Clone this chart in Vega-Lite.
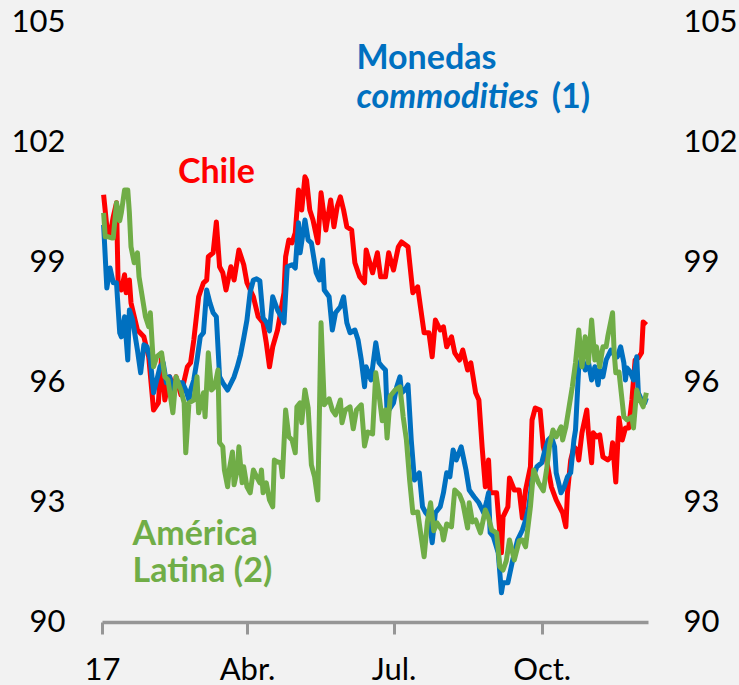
{
"$schema": "https://vega.github.io/schema/vega-lite/v6.json",
"autosize": {"type": "none"},
"padding": {"left": 102, "top": 22, "right": 91, "bottom": 63},
"width": 546,
"height": 600,
"background": "#f2f2f2",
"config": {"view": {"stroke": null}, "font": "Lato"},
"datasets": {
"series": [
{"serie":"Chile","fecha":"2017-01-02","valor":100.68},{"serie":"Chile","fecha":"2017-01-04","valor":99.88},{"serie":"Chile","fecha":"2017-01-06","valor":99.68},{"serie":"Chile","fecha":"2017-01-08","valor":100.13},{"serie":"Chile","fecha":"2017-01-10","valor":100.48},{"serie":"Chile","fecha":"2017-01-11","valor":98.48},{"serie":"Chile","fecha":"2017-01-13","valor":98.3},{"serie":"Chile","fecha":"2017-01-15","valor":98.68},{"serie":"Chile","fecha":"2017-01-16","valor":98.23},{"serie":"Chile","fecha":"2017-01-18","valor":98.55},{"serie":"Chile","fecha":"2017-01-19","valor":97.98},{"serie":"Chile","fecha":"2017-01-23","valor":97.3},{"serie":"Chile","fecha":"2017-01-27","valor":97.13},{"serie":"Chile","fecha":"2017-01-30","valor":96.63},{"serie":"Chile","fecha":"2017-02-02","valor":95.3},{"serie":"Chile","fecha":"2017-02-05","valor":95.48},{"serie":"Chile","fecha":"2017-02-07","valor":96.63},{"serie":"Chile","fecha":"2017-02-09","valor":95.55},{"serie":"Chile","fecha":"2017-02-12","valor":96.13},{"serie":"Chile","fecha":"2017-02-15","valor":95.8},{"serie":"Chile","fecha":"2017-02-16","valor":96.13},{"serie":"Chile","fecha":"2017-02-19","valor":95.68},{"serie":"Chile","fecha":"2017-02-23","valor":96.38},{"serie":"Chile","fecha":"2017-02-25","valor":96.48},{"serie":"Chile","fecha":"2017-02-27","valor":97.05},{"serie":"Chile","fecha":"2017-03-02","valor":98.13},{"serie":"Chile","fecha":"2017-03-05","valor":98.48},{"serie":"Chile","fecha":"2017-03-07","valor":98.55},{"serie":"Chile","fecha":"2017-03-08","valor":99.13},{"serie":"Chile","fecha":"2017-03-11","valor":99.23},{"serie":"Chile","fecha":"2017-03-13","valor":100.0},{"serie":"Chile","fecha":"2017-03-15","valor":98.88},{"serie":"Chile","fecha":"2017-03-17","valor":98.73},{"serie":"Chile","fecha":"2017-03-19","valor":98.3},{"serie":"Chile","fecha":"2017-03-22","valor":98.88},{"serie":"Chile","fecha":"2017-03-24","valor":98.55},{"serie":"Chile","fecha":"2017-03-27","valor":99.3},{"serie":"Chile","fecha":"2017-03-30","valor":98.93},{"serie":"Chile","fecha":"2017-04-01","valor":98.48},{"serie":"Chile","fecha":"2017-04-05","valor":98.13},{"serie":"Chile","fecha":"2017-04-08","valor":97.63},{"serie":"Chile","fecha":"2017-04-11","valor":97.48},{"serie":"Chile","fecha":"2017-04-13","valor":96.98},{"serie":"Chile","fecha":"2017-04-15","valor":96.38},{"serie":"Chile","fecha":"2017-04-17","valor":96.88},{"serie":"Chile","fecha":"2017-04-20","valor":97.3},{"serie":"Chile","fecha":"2017-04-24","valor":98.23},{"serie":"Chile","fecha":"2017-04-25","valor":99.13},{"serie":"Chile","fecha":"2017-04-27","valor":99.55},{"serie":"Chile","fecha":"2017-04-29","valor":99.48},{"serie":"Chile","fecha":"2017-05-01","valor":99.73},{"serie":"Chile","fecha":"2017-05-03","valor":100.8},{"serie":"Chile","fecha":"2017-05-05","valor":100.3},{"serie":"Chile","fecha":"2017-05-07","valor":101.13},{"serie":"Chile","fecha":"2017-05-08","valor":101.05},{"serie":"Chile","fecha":"2017-05-10","valor":100.3},{"serie":"Chile","fecha":"2017-05-12","valor":100.05},{"serie":"Chile","fecha":"2017-05-15","valor":99.48},{"serie":"Chile","fecha":"2017-05-17","valor":100.73},{"serie":"Chile","fecha":"2017-05-20","valor":99.8},{"serie":"Chile","fecha":"2017-05-23","valor":100.55},{"serie":"Chile","fecha":"2017-05-25","valor":99.88},{"serie":"Chile","fecha":"2017-05-27","valor":100.38},{"serie":"Chile","fecha":"2017-05-29","valor":100.63},{"serie":"Chile","fecha":"2017-05-31","valor":100.3},{"serie":"Chile","fecha":"2017-06-02","valor":99.88},{"serie":"Chile","fecha":"2017-06-05","valor":99.8},{"serie":"Chile","fecha":"2017-06-07","valor":98.98},{"serie":"Chile","fecha":"2017-06-10","valor":98.63},{"serie":"Chile","fecha":"2017-06-13","valor":98.48},{"serie":"Chile","fecha":"2017-06-14","valor":99.3},{"serie":"Chile","fecha":"2017-06-18","valor":98.73},{"serie":"Chile","fecha":"2017-06-21","valor":99.23},{"serie":"Chile","fecha":"2017-06-23","valor":98.63},{"serie":"Chile","fecha":"2017-06-26","valor":98.63},{"serie":"Chile","fecha":"2017-06-28","valor":99.23},{"serie":"Chile","fecha":"2017-07-01","valor":98.8},{"serie":"Chile","fecha":"2017-07-04","valor":99.38},{"serie":"Chile","fecha":"2017-07-06","valor":99.5},{"serie":"Chile","fecha":"2017-07-10","valor":99.38},{"serie":"Chile","fecha":"2017-07-13","valor":98.23},{"serie":"Chile","fecha":"2017-07-16","valor":98.38},{"serie":"Chile","fecha":"2017-07-18","valor":97.8},{"serie":"Chile","fecha":"2017-07-20","valor":97.23},{"serie":"Chile","fecha":"2017-07-23","valor":97.23},{"serie":"Chile","fecha":"2017-07-25","valor":96.63},{"serie":"Chile","fecha":"2017-07-27","valor":97.55},{"serie":"Chile","fecha":"2017-07-30","valor":97.3},{"serie":"Chile","fecha":"2017-08-01","valor":97.38},{"serie":"Chile","fecha":"2017-08-03","valor":96.88},{"serie":"Chile","fecha":"2017-08-06","valor":97.13},{"serie":"Chile","fecha":"2017-08-08","valor":96.73},{"serie":"Chile","fecha":"2017-08-11","valor":96.55},{"serie":"Chile","fecha":"2017-08-13","valor":96.8},{"serie":"Chile","fecha":"2017-08-16","valor":96.3},{"serie":"Chile","fecha":"2017-08-18","valor":96.48},{"serie":"Chile","fecha":"2017-08-21","valor":95.73},{"serie":"Chile","fecha":"2017-08-23","valor":95.55},{"serie":"Chile","fecha":"2017-08-25","valor":94.38},{"serie":"Chile","fecha":"2017-08-27","valor":93.38},{"serie":"Chile","fecha":"2017-08-29","valor":94.05},{"serie":"Chile","fecha":"2017-08-30","valor":93.23},{"serie":"Chile","fecha":"2017-09-03","valor":93.23},{"serie":"Chile","fecha":"2017-09-06","valor":91.73},{"serie":"Chile","fecha":"2017-09-07","valor":92.63},{"serie":"Chile","fecha":"2017-09-10","valor":92.88},{"serie":"Chile","fecha":"2017-09-11","valor":93.6},{"serie":"Chile","fecha":"2017-09-14","valor":93.3},{"serie":"Chile","fecha":"2017-09-17","valor":93.3},{"serie":"Chile","fecha":"2017-09-19","valor":92.6},{"serie":"Chile","fecha":"2017-09-21","valor":93.3},{"serie":"Chile","fecha":"2017-09-24","valor":93.88},{"serie":"Chile","fecha":"2017-09-25","valor":95.05},{"serie":"Chile","fecha":"2017-09-27","valor":95.35},{"serie":"Chile","fecha":"2017-09-30","valor":95.3},{"serie":"Chile","fecha":"2017-10-02","valor":94.38},{"serie":"Chile","fecha":"2017-10-04","valor":94.05},{"serie":"Chile","fecha":"2017-10-07","valor":93.38},{"serie":"Chile","fecha":"2017-10-10","valor":93.05},{"serie":"Chile","fecha":"2017-10-14","valor":92.73},{"serie":"Chile","fecha":"2017-10-16","valor":92.38},{"serie":"Chile","fecha":"2017-10-17","valor":93.23},{"serie":"Chile","fecha":"2017-10-19","valor":94.05},{"serie":"Chile","fecha":"2017-10-21","valor":94.38},{"serie":"Chile","fecha":"2017-10-23","valor":94.3},{"serie":"Chile","fecha":"2017-10-24","valor":94.05},{"serie":"Chile","fecha":"2017-10-26","valor":94.73},{"serie":"Chile","fecha":"2017-10-29","valor":95.3},{"serie":"Chile","fecha":"2017-10-30","valor":94.73},{"serie":"Chile","fecha":"2017-11-01","valor":93.98},{"serie":"Chile","fecha":"2017-11-02","valor":94.73},{"serie":"Chile","fecha":"2017-11-04","valor":94.63},{"serie":"Chile","fecha":"2017-11-06","valor":94.68},{"serie":"Chile","fecha":"2017-11-08","valor":94.13},{"serie":"Chile","fecha":"2017-11-11","valor":94.05},{"serie":"Chile","fecha":"2017-11-13","valor":94.13},{"serie":"Chile","fecha":"2017-11-14","valor":94.48},{"serie":"Chile","fecha":"2017-11-16","valor":93.5},{"serie":"Chile","fecha":"2017-11-17","valor":94.3},{"serie":"Chile","fecha":"2017-11-18","valor":95.1},{"serie":"Chile","fecha":"2017-11-20","valor":94.55},{"serie":"Chile","fecha":"2017-11-22","valor":94.85},{"serie":"Chile","fecha":"2017-11-24","valor":94.85},{"serie":"Chile","fecha":"2017-11-26","valor":95.55},{"serie":"Chile","fecha":"2017-11-28","valor":96.55},{"serie":"Chile","fecha":"2017-11-30","valor":96.6},{"serie":"Chile","fecha":"2017-12-02","valor":96.73},{"serie":"Chile","fecha":"2017-12-03","valor":97.5},{"serie":"Chile","fecha":"2017-12-05","valor":97.43},
{"serie":"Monedas commodities (1)","fecha":"2017-01-02","valor":99.93},{"serie":"Monedas commodities (1)","fecha":"2017-01-04","valor":98.35},{"serie":"Monedas commodities (1)","fecha":"2017-01-06","valor":98.85},{"serie":"Monedas commodities (1)","fecha":"2017-01-08","valor":98.48},{"serie":"Monedas commodities (1)","fecha":"2017-01-10","valor":98.48},{"serie":"Monedas commodities (1)","fecha":"2017-01-12","valor":97.23},{"serie":"Monedas commodities (1)","fecha":"2017-01-13","valor":97.13},{"serie":"Monedas commodities (1)","fecha":"2017-01-15","valor":97.63},{"serie":"Monedas commodities (1)","fecha":"2017-01-17","valor":96.55},{"serie":"Monedas commodities (1)","fecha":"2017-01-18","valor":97.8},{"serie":"Monedas commodities (1)","fecha":"2017-01-20","valor":97.55},{"serie":"Monedas commodities (1)","fecha":"2017-01-23","valor":96.8},{"serie":"Monedas commodities (1)","fecha":"2017-01-25","valor":96.23},{"serie":"Monedas commodities (1)","fecha":"2017-01-27","valor":96.93},{"serie":"Monedas commodities (1)","fecha":"2017-01-29","valor":96.88},{"serie":"Monedas commodities (1)","fecha":"2017-01-31","valor":96.55},{"serie":"Monedas commodities (1)","fecha":"2017-02-02","valor":95.73},{"serie":"Monedas commodities (1)","fecha":"2017-02-04","valor":96.05},{"serie":"Monedas commodities (1)","fecha":"2017-02-06","valor":96.38},{"serie":"Monedas commodities (1)","fecha":"2017-02-08","valor":96.48},{"serie":"Monedas commodities (1)","fecha":"2017-02-10","valor":95.98},{"serie":"Monedas commodities (1)","fecha":"2017-02-12","valor":96.13},{"serie":"Monedas commodities (1)","fecha":"2017-02-14","valor":95.8},{"serie":"Monedas commodities (1)","fecha":"2017-02-17","valor":95.98},{"serie":"Monedas commodities (1)","fecha":"2017-02-20","valor":95.98},{"serie":"Monedas commodities (1)","fecha":"2017-02-22","valor":95.8},{"serie":"Monedas commodities (1)","fecha":"2017-02-24","valor":95.55},{"serie":"Monedas commodities (1)","fecha":"2017-02-25","valor":95.8},{"serie":"Monedas commodities (1)","fecha":"2017-02-27","valor":96.05},{"serie":"Monedas commodities (1)","fecha":"2017-03-01","valor":96.55},{"serie":"Monedas commodities (1)","fecha":"2017-03-03","valor":97.13},{"serie":"Monedas commodities (1)","fecha":"2017-03-05","valor":97.23},{"serie":"Monedas commodities (1)","fecha":"2017-03-07","valor":98.3},{"serie":"Monedas commodities (1)","fecha":"2017-03-09","valor":97.98},{"serie":"Monedas commodities (1)","fecha":"2017-03-11","valor":97.73},{"serie":"Monedas commodities (1)","fecha":"2017-03-13","valor":97.63},{"serie":"Monedas commodities (1)","fecha":"2017-03-15","valor":96.13},{"serie":"Monedas commodities (1)","fecha":"2017-03-17","valor":95.98},{"serie":"Monedas commodities (1)","fecha":"2017-03-20","valor":95.8},{"serie":"Monedas commodities (1)","fecha":"2017-03-24","valor":96.13},{"serie":"Monedas commodities (1)","fecha":"2017-03-26","valor":96.38},{"serie":"Monedas commodities (1)","fecha":"2017-03-28","valor":96.68},{"serie":"Monedas commodities (1)","fecha":"2017-03-30","valor":97.1},{"serie":"Monedas commodities (1)","fecha":"2017-04-01","valor":97.55},{"serie":"Monedas commodities (1)","fecha":"2017-04-03","valor":98.25},{"serie":"Monedas commodities (1)","fecha":"2017-04-05","valor":98.55},{"serie":"Monedas commodities (1)","fecha":"2017-04-07","valor":98.58},{"serie":"Monedas commodities (1)","fecha":"2017-04-09","valor":98.53},{"serie":"Monedas commodities (1)","fecha":"2017-04-11","valor":97.6},{"serie":"Monedas commodities (1)","fecha":"2017-04-13","valor":97.5},{"serie":"Monedas commodities (1)","fecha":"2017-04-15","valor":97.28},{"serie":"Monedas commodities (1)","fecha":"2017-04-17","valor":98.13},{"serie":"Monedas commodities (1)","fecha":"2017-04-20","valor":97.8},{"serie":"Monedas commodities (1)","fecha":"2017-04-22","valor":97.65},{"serie":"Monedas commodities (1)","fecha":"2017-04-24","valor":97.48},{"serie":"Monedas commodities (1)","fecha":"2017-04-26","valor":98.88},{"serie":"Monedas commodities (1)","fecha":"2017-04-29","valor":98.93},{"serie":"Monedas commodities (1)","fecha":"2017-05-01","valor":98.85},{"serie":"Monedas commodities (1)","fecha":"2017-05-03","valor":99.98},{"serie":"Monedas commodities (1)","fecha":"2017-05-04","valor":99.23},{"serie":"Monedas commodities (1)","fecha":"2017-05-07","valor":100.05},{"serie":"Monedas commodities (1)","fecha":"2017-05-09","valor":99.55},{"serie":"Monedas commodities (1)","fecha":"2017-05-11","valor":99.48},{"serie":"Monedas commodities (1)","fecha":"2017-05-14","valor":98.73},{"serie":"Monedas commodities (1)","fecha":"2017-05-16","valor":98.55},{"serie":"Monedas commodities (1)","fecha":"2017-05-18","valor":99.05},{"serie":"Monedas commodities (1)","fecha":"2017-05-19","valor":98.3},{"serie":"Monedas commodities (1)","fecha":"2017-05-22","valor":98.13},{"serie":"Monedas commodities (1)","fecha":"2017-05-24","valor":97.3},{"serie":"Monedas commodities (1)","fecha":"2017-05-26","valor":97.73},{"serie":"Monedas commodities (1)","fecha":"2017-05-29","valor":97.88},{"serie":"Monedas commodities (1)","fecha":"2017-05-31","valor":98.13},{"serie":"Monedas commodities (1)","fecha":"2017-06-02","valor":97.48},{"serie":"Monedas commodities (1)","fecha":"2017-06-04","valor":97.23},{"serie":"Monedas commodities (1)","fecha":"2017-06-07","valor":97.3},{"serie":"Monedas commodities (1)","fecha":"2017-06-09","valor":97.05},{"serie":"Monedas commodities (1)","fecha":"2017-06-11","valor":96.55},{"serie":"Monedas commodities (1)","fecha":"2017-06-13","valor":95.88},{"serie":"Monedas commodities (1)","fecha":"2017-06-14","valor":96.38},{"serie":"Monedas commodities (1)","fecha":"2017-06-17","valor":96.05},{"serie":"Monedas commodities (1)","fecha":"2017-06-20","valor":96.98},{"serie":"Monedas commodities (1)","fecha":"2017-06-22","valor":96.48},{"serie":"Monedas commodities (1)","fecha":"2017-06-24","valor":96.38},{"serie":"Monedas commodities (1)","fecha":"2017-06-26","valor":96.3},{"serie":"Monedas commodities (1)","fecha":"2017-06-27","valor":95.23},{"serie":"Monedas commodities (1)","fecha":"2017-07-01","valor":95.48},{"serie":"Monedas commodities (1)","fecha":"2017-07-03","valor":95.88},{"serie":"Monedas commodities (1)","fecha":"2017-07-05","valor":96.13},{"serie":"Monedas commodities (1)","fecha":"2017-07-06","valor":95.73},{"serie":"Monedas commodities (1)","fecha":"2017-07-08","valor":95.8},{"serie":"Monedas commodities (1)","fecha":"2017-07-10","valor":95.93},{"serie":"Monedas commodities (1)","fecha":"2017-07-12","valor":94.55},{"serie":"Monedas commodities (1)","fecha":"2017-07-14","valor":93.55},{"serie":"Monedas commodities (1)","fecha":"2017-07-17","valor":93.73},{"serie":"Monedas commodities (1)","fecha":"2017-07-19","valor":92.88},{"serie":"Monedas commodities (1)","fecha":"2017-07-21","valor":92.73},{"serie":"Monedas commodities (1)","fecha":"2017-07-23","valor":92.63},{"serie":"Monedas commodities (1)","fecha":"2017-07-25","valor":91.98},{"serie":"Monedas commodities (1)","fecha":"2017-07-27","valor":92.73},{"serie":"Monedas commodities (1)","fecha":"2017-07-30","valor":92.88},{"serie":"Monedas commodities (1)","fecha":"2017-08-01","valor":93.23},{"serie":"Monedas commodities (1)","fecha":"2017-08-03","valor":93.73},{"serie":"Monedas commodities (1)","fecha":"2017-08-05","valor":93.63},{"serie":"Monedas commodities (1)","fecha":"2017-08-07","valor":94.3},{"serie":"Monedas commodities (1)","fecha":"2017-08-09","valor":94.05},{"serie":"Monedas commodities (1)","fecha":"2017-08-12","valor":94.38},{"serie":"Monedas commodities (1)","fecha":"2017-08-15","valor":93.8},{"serie":"Monedas commodities (1)","fecha":"2017-08-17","valor":93.3},{"serie":"Monedas commodities (1)","fecha":"2017-08-20","valor":93.13},{"serie":"Monedas commodities (1)","fecha":"2017-08-23","valor":92.98},{"serie":"Monedas commodities (1)","fecha":"2017-08-26","valor":92.73},{"serie":"Monedas commodities (1)","fecha":"2017-08-28","valor":93.05},{"serie":"Monedas commodities (1)","fecha":"2017-08-29","valor":93.23},{"serie":"Monedas commodities (1)","fecha":"2017-08-30","valor":92.23},{"serie":"Monedas commodities (1)","fecha":"2017-09-01","valor":92.13},{"serie":"Monedas commodities (1)","fecha":"2017-09-04","valor":91.73},{"serie":"Monedas commodities (1)","fecha":"2017-09-06","valor":90.73},{"serie":"Monedas commodities (1)","fecha":"2017-09-07","valor":90.98},{"serie":"Monedas commodities (1)","fecha":"2017-09-10","valor":90.98},{"serie":"Monedas commodities (1)","fecha":"2017-09-13","valor":91.55},{"serie":"Monedas commodities (1)","fecha":"2017-09-16","valor":92.05},{"serie":"Monedas commodities (1)","fecha":"2017-09-19","valor":92.3},{"serie":"Monedas commodities (1)","fecha":"2017-09-21","valor":92.55},{"serie":"Monedas commodities (1)","fecha":"2017-09-23","valor":92.88},{"serie":"Monedas commodities (1)","fecha":"2017-09-25","valor":93.55},{"serie":"Monedas commodities (1)","fecha":"2017-09-28","valor":93.88},{"serie":"Monedas commodities (1)","fecha":"2017-10-01","valor":93.98},{"serie":"Monedas commodities (1)","fecha":"2017-10-03","valor":94.3},{"serie":"Monedas commodities (1)","fecha":"2017-10-05","valor":94.55},{"serie":"Monedas commodities (1)","fecha":"2017-10-07","valor":94.63},{"serie":"Monedas commodities (1)","fecha":"2017-10-09","valor":94.38},{"serie":"Monedas commodities (1)","fecha":"2017-10-10","valor":93.73},{"serie":"Monedas commodities (1)","fecha":"2017-10-13","valor":93.23},{"serie":"Monedas commodities (1)","fecha":"2017-10-15","valor":93.38},{"serie":"Monedas commodities (1)","fecha":"2017-10-17","valor":93.63},{"serie":"Monedas commodities (1)","fecha":"2017-10-19","valor":93.73},{"serie":"Monedas commodities (1)","fecha":"2017-10-21","valor":94.55},{"serie":"Monedas commodities (1)","fecha":"2017-10-22","valor":94.8},{"serie":"Monedas commodities (1)","fecha":"2017-10-24","valor":96.38},{"serie":"Monedas commodities (1)","fecha":"2017-10-26","valor":96.63},{"serie":"Monedas commodities (1)","fecha":"2017-10-28","valor":96.3},{"serie":"Monedas commodities (1)","fecha":"2017-10-30","valor":96.5},{"serie":"Monedas commodities (1)","fecha":"2017-11-01","valor":96.05},{"serie":"Monedas commodities (1)","fecha":"2017-11-03","valor":96.38},{"serie":"Monedas commodities (1)","fecha":"2017-11-05","valor":95.93},{"serie":"Monedas commodities (1)","fecha":"2017-11-06","valor":96.3},{"serie":"Monedas commodities (1)","fecha":"2017-11-08","valor":96.13},{"serie":"Monedas commodities (1)","fecha":"2017-11-10","valor":96.55},{"serie":"Monedas commodities (1)","fecha":"2017-11-13","valor":96.8},{"serie":"Monedas commodities (1)","fecha":"2017-11-15","valor":96.68},{"serie":"Monedas commodities (1)","fecha":"2017-11-17","valor":96.63},{"serie":"Monedas commodities (1)","fecha":"2017-11-19","valor":96.88},{"serie":"Monedas commodities (1)","fecha":"2017-11-21","valor":96.48},{"serie":"Monedas commodities (1)","fecha":"2017-11-22","valor":96.05},{"serie":"Monedas commodities (1)","fecha":"2017-11-23","valor":96.35},{"serie":"Monedas commodities (1)","fecha":"2017-11-25","valor":96.25},{"serie":"Monedas commodities (1)","fecha":"2017-11-27","valor":96.05},{"serie":"Monedas commodities (1)","fecha":"2017-11-29","valor":96.63},{"serie":"Monedas commodities (1)","fecha":"2017-11-30","valor":95.73},{"serie":"Monedas commodities (1)","fecha":"2017-12-02","valor":95.55},{"serie":"Monedas commodities (1)","fecha":"2017-12-04","valor":95.48},{"serie":"Monedas commodities (1)","fecha":"2017-12-05","valor":95.6},
{"serie":"América Latina (2)","fecha":"2017-01-02","valor":100.23},{"serie":"América Latina (2)","fecha":"2017-01-03","valor":99.63},{"serie":"América Latina (2)","fecha":"2017-01-05","valor":99.63},{"serie":"América Latina (2)","fecha":"2017-01-07","valor":99.6},{"serie":"América Latina (2)","fecha":"2017-01-08","valor":99.6},{"serie":"América Latina (2)","fecha":"2017-01-10","valor":100.48},{"serie":"América Latina (2)","fecha":"2017-01-12","valor":100.03},{"serie":"América Latina (2)","fecha":"2017-01-13","valor":100.23},{"serie":"América Latina (2)","fecha":"2017-01-15","valor":100.8},{"serie":"América Latina (2)","fecha":"2017-01-17","valor":100.8},{"serie":"América Latina (2)","fecha":"2017-01-18","valor":100.23},{"serie":"América Latina (2)","fecha":"2017-01-19","valor":99.38},{"serie":"América Latina (2)","fecha":"2017-01-21","valor":98.98},{"serie":"América Latina (2)","fecha":"2017-01-23","valor":99.23},{"serie":"América Latina (2)","fecha":"2017-01-24","valor":98.63},{"serie":"América Latina (2)","fecha":"2017-01-28","valor":97.63},{"serie":"América Latina (2)","fecha":"2017-01-30","valor":97.38},{"serie":"América Latina (2)","fecha":"2017-01-31","valor":97.73},{"serie":"América Latina (2)","fecha":"2017-02-02","valor":96.38},{"serie":"América Latina (2)","fecha":"2017-02-04","valor":96.63},{"serie":"América Latina (2)","fecha":"2017-02-07","valor":96.73},{"serie":"América Latina (2)","fecha":"2017-02-09","valor":96.13},{"serie":"América Latina (2)","fecha":"2017-02-11","valor":96.05},{"serie":"América Latina (2)","fecha":"2017-02-14","valor":95.23},{"serie":"América Latina (2)","fecha":"2017-02-16","valor":96.13},{"serie":"América Latina (2)","fecha":"2017-02-19","valor":95.8},{"serie":"América Latina (2)","fecha":"2017-02-21","valor":95.48},{"serie":"América Latina (2)","fecha":"2017-02-22","valor":94.23},{"serie":"América Latina (2)","fecha":"2017-02-24","valor":95.48},{"serie":"América Latina (2)","fecha":"2017-02-27","valor":95.55},{"serie":"América Latina (2)","fecha":"2017-03-01","valor":96.13},{"serie":"América Latina (2)","fecha":"2017-03-02","valor":95.23},{"serie":"América Latina (2)","fecha":"2017-03-05","valor":95.73},{"serie":"América Latina (2)","fecha":"2017-03-06","valor":95.13},{"serie":"América Latina (2)","fecha":"2017-03-08","valor":96.73},{"serie":"América Latina (2)","fecha":"2017-03-10","valor":95.8},{"serie":"América Latina (2)","fecha":"2017-03-12","valor":95.88},{"serie":"América Latina (2)","fecha":"2017-03-14","valor":96.3},{"serie":"América Latina (2)","fecha":"2017-03-15","valor":94.48},{"serie":"América Latina (2)","fecha":"2017-03-17","valor":94.38},{"serie":"América Latina (2)","fecha":"2017-03-18","valor":93.8},{"serie":"América Latina (2)","fecha":"2017-03-20","valor":93.38},{"serie":"América Latina (2)","fecha":"2017-03-21","valor":93.8},{"serie":"América Latina (2)","fecha":"2017-03-23","valor":94.25},{"serie":"América Latina (2)","fecha":"2017-03-24","valor":93.43},{"serie":"América Latina (2)","fecha":"2017-03-26","valor":93.8},{"serie":"América Latina (2)","fecha":"2017-03-27","valor":94.38},{"serie":"América Latina (2)","fecha":"2017-03-29","valor":93.48},{"serie":"América Latina (2)","fecha":"2017-03-30","valor":93.88},{"serie":"América Latina (2)","fecha":"2017-04-01","valor":93.38},{"serie":"América Latina (2)","fecha":"2017-04-03","valor":93.23},{"serie":"América Latina (2)","fecha":"2017-04-05","valor":93.8},{"serie":"América Latina (2)","fecha":"2017-04-07","valor":93.63},{"serie":"América Latina (2)","fecha":"2017-04-09","valor":93.48},{"serie":"América Latina (2)","fecha":"2017-04-10","valor":93.8},{"serie":"América Latina (2)","fecha":"2017-04-11","valor":93.23},{"serie":"América Latina (2)","fecha":"2017-04-13","valor":93.48},{"serie":"América Latina (2)","fecha":"2017-04-15","valor":93.05},{"serie":"América Latina (2)","fecha":"2017-04-17","valor":92.88},{"serie":"América Latina (2)","fecha":"2017-04-18","valor":94.05},{"serie":"América Latina (2)","fecha":"2017-04-20","valor":94.0},{"serie":"América Latina (2)","fecha":"2017-04-22","valor":93.98},{"serie":"América Latina (2)","fecha":"2017-04-23","valor":93.63},{"serie":"América Latina (2)","fecha":"2017-04-25","valor":95.3},{"serie":"América Latina (2)","fecha":"2017-04-27","valor":94.63},{"serie":"América Latina (2)","fecha":"2017-04-29","valor":94.55},{"serie":"América Latina (2)","fecha":"2017-05-01","valor":94.23},{"serie":"América Latina (2)","fecha":"2017-05-02","valor":95.38},{"serie":"América Latina (2)","fecha":"2017-05-04","valor":95.48},{"serie":"América Latina (2)","fecha":"2017-05-05","valor":94.98},{"serie":"América Latina (2)","fecha":"2017-05-07","valor":95.8},{"serie":"América Latina (2)","fecha":"2017-05-09","valor":95.35},{"serie":"América Latina (2)","fecha":"2017-05-11","valor":93.93},{"serie":"América Latina (2)","fecha":"2017-05-13","valor":93.63},{"serie":"América Latina (2)","fecha":"2017-05-15","valor":93.05},{"serie":"América Latina (2)","fecha":"2017-05-17","valor":97.48},{"serie":"América Latina (2)","fecha":"2017-05-19","valor":95.43},{"serie":"América Latina (2)","fecha":"2017-05-22","valor":95.58},{"serie":"América Latina (2)","fecha":"2017-05-24","valor":95.3},{"serie":"América Latina (2)","fecha":"2017-05-26","valor":95.18},{"serie":"América Latina (2)","fecha":"2017-05-29","valor":95.55},{"serie":"América Latina (2)","fecha":"2017-05-30","valor":94.98},{"serie":"América Latina (2)","fecha":"2017-06-01","valor":95.3},{"serie":"América Latina (2)","fecha":"2017-06-04","valor":95.38},{"serie":"América Latina (2)","fecha":"2017-06-06","valor":94.83},{"serie":"América Latina (2)","fecha":"2017-06-08","valor":95.3},{"serie":"América Latina (2)","fecha":"2017-06-11","valor":95.43},{"serie":"América Latina (2)","fecha":"2017-06-13","valor":94.4},{"serie":"América Latina (2)","fecha":"2017-06-15","valor":94.75},{"serie":"América Latina (2)","fecha":"2017-06-18","valor":94.7},{"serie":"América Latina (2)","fecha":"2017-06-20","valor":96.23},{"serie":"América Latina (2)","fecha":"2017-06-22","valor":95.68},{"serie":"América Latina (2)","fecha":"2017-06-24","valor":95.03},{"serie":"América Latina (2)","fecha":"2017-06-26","valor":95.3},{"serie":"América Latina (2)","fecha":"2017-06-27","valor":94.6},{"serie":"América Latina (2)","fecha":"2017-06-29","valor":95.65},{"serie":"América Latina (2)","fecha":"2017-07-02","valor":95.8},{"serie":"América Latina (2)","fecha":"2017-07-05","valor":95.88},{"serie":"América Latina (2)","fecha":"2017-07-07","valor":95.13},{"serie":"América Latina (2)","fecha":"2017-07-09","valor":94.55},{"serie":"América Latina (2)","fecha":"2017-07-11","valor":93.55},{"serie":"América Latina (2)","fecha":"2017-07-13","valor":92.73},{"serie":"América Latina (2)","fecha":"2017-07-16","valor":92.75},{"serie":"América Latina (2)","fecha":"2017-07-18","valor":92.18},{"serie":"América Latina (2)","fecha":"2017-07-20","valor":91.63},{"serie":"América Latina (2)","fecha":"2017-07-22","valor":92.5},{"serie":"América Latina (2)","fecha":"2017-07-24","valor":92.98},{"serie":"América Latina (2)","fecha":"2017-07-26","valor":92.28},{"serie":"América Latina (2)","fecha":"2017-07-28","valor":92.48},{"serie":"América Latina (2)","fecha":"2017-07-31","valor":92.3},{"serie":"América Latina (2)","fecha":"2017-08-01","valor":92.05},{"serie":"América Latina (2)","fecha":"2017-08-03","valor":92.45},{"serie":"América Latina (2)","fecha":"2017-08-06","valor":92.38},{"serie":"América Latina (2)","fecha":"2017-08-08","valor":93.3},{"serie":"América Latina (2)","fecha":"2017-08-11","valor":93.18},{"serie":"América Latina (2)","fecha":"2017-08-13","valor":92.98},{"serie":"América Latina (2)","fecha":"2017-08-16","valor":92.35},{"serie":"América Latina (2)","fecha":"2017-08-17","valor":92.98},{"serie":"América Latina (2)","fecha":"2017-08-19","valor":92.5},{"serie":"América Latina (2)","fecha":"2017-08-21","valor":92.55},{"serie":"América Latina (2)","fecha":"2017-08-24","valor":92.23},{"serie":"América Latina (2)","fecha":"2017-08-27","valor":92.8},{"serie":"América Latina (2)","fecha":"2017-08-29","valor":92.6},{"serie":"América Latina (2)","fecha":"2017-08-31","valor":92.3},{"serie":"América Latina (2)","fecha":"2017-09-03","valor":92.23},{"serie":"América Latina (2)","fecha":"2017-09-05","valor":91.38},{"serie":"América Latina (2)","fecha":"2017-09-07","valor":91.3},{"serie":"América Latina (2)","fecha":"2017-09-09","valor":91.53},{"serie":"América Latina (2)","fecha":"2017-09-11","valor":92.05},{"serie":"América Latina (2)","fecha":"2017-09-14","valor":91.55},{"serie":"América Latina (2)","fecha":"2017-09-17","valor":92.03},{"serie":"América Latina (2)","fecha":"2017-09-19","valor":92.05},{"serie":"América Latina (2)","fecha":"2017-09-21","valor":91.88},{"serie":"América Latina (2)","fecha":"2017-09-24","valor":92.88},{"serie":"América Latina (2)","fecha":"2017-09-26","valor":93.8},{"serie":"América Latina (2)","fecha":"2017-09-29","valor":93.48},{"serie":"América Latina (2)","fecha":"2017-10-02","valor":93.28},{"serie":"América Latina (2)","fecha":"2017-10-04","valor":93.8},{"serie":"América Latina (2)","fecha":"2017-10-06","valor":94.43},{"serie":"América Latina (2)","fecha":"2017-10-08","valor":94.8},{"serie":"América Latina (2)","fecha":"2017-10-10","valor":94.63},{"serie":"América Latina (2)","fecha":"2017-10-13","valor":94.88},{"serie":"América Latina (2)","fecha":"2017-10-14","valor":94.55},{"serie":"América Latina (2)","fecha":"2017-10-16","valor":94.88},{"serie":"América Latina (2)","fecha":"2017-10-18","valor":95.38},{"serie":"América Latina (2)","fecha":"2017-10-20","valor":95.88},{"serie":"América Latina (2)","fecha":"2017-10-22","valor":96.48},{"serie":"América Latina (2)","fecha":"2017-10-24","valor":97.3},{"serie":"América Latina (2)","fecha":"2017-10-26","valor":96.38},{"serie":"América Latina (2)","fecha":"2017-10-28","valor":97.13},{"serie":"América Latina (2)","fecha":"2017-10-30","valor":96.48},{"serie":"América Latina (2)","fecha":"2017-11-01","valor":97.55},{"serie":"América Latina (2)","fecha":"2017-11-03","valor":96.55},{"serie":"América Latina (2)","fecha":"2017-11-04","valor":96.88},{"serie":"América Latina (2)","fecha":"2017-11-06","valor":96.38},{"serie":"América Latina (2)","fecha":"2017-11-08","valor":96.88},{"serie":"América Latina (2)","fecha":"2017-11-10","valor":96.88},{"serie":"América Latina (2)","fecha":"2017-11-11","valor":97.13},{"serie":"América Latina (2)","fecha":"2017-11-14","valor":97.73},{"serie":"América Latina (2)","fecha":"2017-11-15","valor":96.73},{"serie":"América Latina (2)","fecha":"2017-11-16","valor":96.23},{"serie":"América Latina (2)","fecha":"2017-11-18","valor":96.25},{"serie":"América Latina (2)","fecha":"2017-11-21","valor":95.13},{"serie":"América Latina (2)","fecha":"2017-11-23","valor":95.05},{"serie":"América Latina (2)","fecha":"2017-11-26","valor":95.13},{"serie":"América Latina (2)","fecha":"2017-11-27","valor":94.85},{"serie":"América Latina (2)","fecha":"2017-11-29","valor":95.8},{"serie":"América Latina (2)","fecha":"2017-12-01","valor":95.55},{"serie":"América Latina (2)","fecha":"2017-12-03","valor":95.38},{"serie":"América Latina (2)","fecha":"2017-12-05","valor":95.73}
],
"notas": [
{"serie":"Chile","texto":"Chile","fecha":"2017-03-13","valor":100.98},
{"serie":"Monedas commodities (1)","texto":"Monedas","fecha":"2017-06-08","valor":103.82},
{"serie":"Monedas commodities (1)","texto":"commodities","fecha":"2017-06-08","valor":102.85},
{"serie":"Monedas commodities (1)","texto":"(1)","fecha":"2017-10-31","valor":102.85},
{"serie":"América Latina (2)","texto":"América","fecha":"2017-01-20","valor":91.93},
{"serie":"América Latina (2)","texto":"Latina (2)","fecha":"2017-01-20","valor":91.0}
]
},
"resolve": {"axis": {"x": "independent", "y": "independent"}},
"layer": [
{
"data": {"name": "series"},
"mark": {"type": "line", "strokeWidth": 5, "strokeJoin": "round"},
"encoding": {
"x": {"field": "fecha", "type": "temporal",
 "scale": {"type": "utc", "domain": [{"year": 2017, "month": 1, "date": 1, "utc": true}, {"year": 2017, "month": 12, "date": 6, "utc": true}]},
 "axis": {"title": null, "grid": false,
  "values": [{"year": 2017, "month": 1, "date": 1, "utc": true}, {"year": 2017, "month": 4, "date": 1, "utc": true}, {"year": 2017, "month": 7, "date": 1, "utc": true}, {"year": 2017, "month": 10, "date": 1, "utc": true}],
  "labelExpr": "utcmonth(datum.value) == 0 ? '17' : utcmonth(datum.value) == 3 ? 'Abr.' : utcmonth(datum.value) == 6 ? 'Jul.' : 'Oct.'",
  "domainColor": "#969696", "domainWidth": 3.5, "tickColor": "#969696", "tickWidth": 3, "tickSize": 12,
  "labelFont": "Lato", "labelFontSize": 31, "labelColor": "#000000", "labelPadding": 21, "labelFlush": false, "labelOverlap": false}},
"y": {"field": "valor", "type": "quantitative",
 "scale": {"domain": [90, 105], "nice": false, "zero": false},
 "axis": {"orient": "left", "title": null, "values": [90, 93, 96, 99, 102, 105], "domain": false, "ticks": false, "grid": false,
  "labelFont": "Lato", "labelFontSize": 31, "labelColor": "#000000", "labelPadding": 37}},
"color": {"field": "serie", "type": "nominal",
 "scale": {"domain": ["Chile", "Monedas commodities (1)", "América Latina (2)"], "range": ["#ff0000", "#0070c0", "#70ad47"]},
 "legend": null}
}
},
{
"data": {"name": "notas"},
"transform": [{"filter": "datum.texto == 'Chile'"}],
"mark": {"type": "text", "fontSize": 34, "fontWeight": "bold", "font": "Lato", "align": "center", "baseline": "alphabetic"},
"encoding": {
"x": {"field": "fecha", "type": "temporal", "axis": null},
"y": {"field": "valor", "type": "quantitative",
 "axis": {"orient": "right", "title": null, "values": [90, 93, 96, 99, 102, 105], "domain": false, "ticks": false, "grid": false,
  "labelFont": "Lato", "labelFontSize": 31, "labelColor": "#000000", "labelPadding": 35}},
"text": {"field": "texto"},
"color": {"field": "serie", "type": "nominal", "legend": null}
}
},
{
"data": {"name": "notas"},
"transform": [{"filter": "datum.texto == 'Monedas' || datum.texto == 'América' || datum.texto == 'Latina (2)'"}],
"mark": {"type": "text", "fontSize": 34, "fontWeight": "bold", "font": "Lato", "align": "left", "baseline": "alphabetic"},
"encoding": {
"x": {"field": "fecha", "type": "temporal", "axis": null},
"y": {"field": "valor", "type": "quantitative", "axis": null},
"text": {"field": "texto"},
"color": {"field": "serie", "type": "nominal", "legend": null}
}
},
{
"data": {"name": "notas"},
"transform": [{"filter": "datum.texto == 'commodities'"}],
"mark": {"type": "text", "fontSize": 34, "fontWeight": "bold", "fontStyle": "italic", "font": "Lato", "align": "left", "baseline": "alphabetic"},
"encoding": {
"x": {"field": "fecha", "type": "temporal", "axis": null},
"y": {"field": "valor", "type": "quantitative", "axis": null},
"text": {"field": "texto"},
"color": {"field": "serie", "type": "nominal", "legend": null}
}
},
{
"data": {"name": "notas"},
"transform": [{"filter": "datum.texto == '(1)'"}],
"mark": {"type": "text", "fontSize": 34, "fontWeight": "bold", "font": "Lato", "align": "right", "baseline": "alphabetic"},
"encoding": {
"x": {"field": "fecha", "type": "temporal", "axis": null},
"y": {"field": "valor", "type": "quantitative", "axis": null},
"text": {"field": "texto"},
"color": {"field": "serie", "type": "nominal", "legend": null}
}
}
]
}
